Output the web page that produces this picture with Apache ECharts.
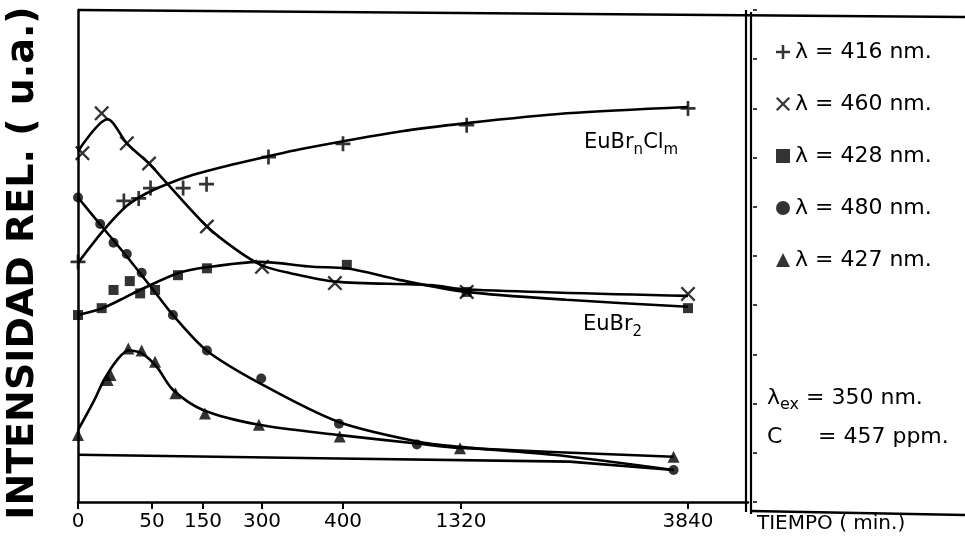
<!DOCTYPE html>
<html><head><meta charset="utf-8">
<script src="https://cdn.jsdelivr.net/npm/echarts@6/dist/echarts.min.js"></script>
<style>html,body{margin:0;padding:0;background:#fff}#c{width:965px;height:544px}</style>
</head><body><div id="c"></div><script>
// ---- DATA (time in minutes, relative intensity in u.a.) ----
const tickTimes = [0, 50, 150, 300, 400, 1320, 3840];
const tickLabels = ['0', '50', '150', '300', '400', '1320', '3840'];
const seriesNames = ['\u03bb = 416 nm.', '\u03bb = 460 nm.', '\u03bb = 428 nm.', '\u03bb = 480 nm.', '\u03bb = 427 nm.'];

// measured points
const pts416 = [[0,48.8],[31,61.2],[41,61.7],[49,63.8],[111,63.8],[159,64.6],[308,70.1],[400,72.8],[1383,76.6],[3840,80.0]];
const pts460 = [[3,70.9],[16,79.0],[33,72.9],[48,68.8],[160,56.0],[300,47.8],[390,44.5],[1383,42.7],[3840,42.3]];
const pts428 = [[0,38.0],[16,39.4],[24,43.1],[35,44.9],[42,42.4],[56,43.1],[101,46.1],[160,47.5],[430,48.2],[1383,42.7],[3840,39.4]];
const pts480 = [[0,61.9],[15,56.5],[24,52.7],[33,50.4],[43,46.6],[91,38.0],[160,30.8],[298,25.1],[395,15.9],[976,11.7],[3680,6.5]];
const pts427 = [[0,13.6],[20,24.8],[22,25.8],[34,31.2],[43,30.8],[56,28.5],[96,22.1],[155,18.0],[292,15.7],[396,13.3],[1312,10.9],[3680,9.2]];

// fitted curves (traced)
const fit416 = [[0,48.6],[17.5,55.3],[33,60.2],[46,62.7],[79,64.6],[131,66.5],[210,68.3],[306,70.2],[347,71.7],[845,75.3],[1383,77.0],[2493,79.0],[3840,80.3]];
const fit460 = [[0,71.3],[20,77.8],[33,72.9],[48,68.8],[79,64.8],[160,56.0],[236,51.2],[300,48.1],[335,46.5],[390,44.8],[1080,44.1],[1383,43.2],[3840,41.9]];
const fit428 = [[0,38.0],[16.5,39.4],[28.7,41.1],[44,43.4],[101,46.5],[159,47.7],[295,48.8],[363,47.8],[430,47.5],[845,45.1],[1383,42.7],[2493,41.1],[3840,39.7]];
const fit480 = [[0,61.9],[15.3,56.3],[33,49.9],[52.5,43.1],[91,38.0],[159,30.8],[295,24.1],[394,16.3],[976,12.3],[1312,11.2],[2344,9.6],[3680,6.5]];
const fit427 = [[0,14.6],[11,20.7],[17.5,24.8],[26.5,28.9],[34,30.8],[43,30.2],[59,27.5],[91,22.8],[150,18.7],[292,15.7],[396,13.6],[976,11.9],[1312,11.0],[3680,9.2]];
const baseLine = [[0,9.6],[372,8.9],[2524,8.2],[3680,6.5]];

// ---- LAYOUT / SCALE ----
// the hand-drawn time axis: positions of each tick along the axis (px from the origin)
const tickPos = [0, 74, 125, 184, 265, 383, 610];
function toPos(t) {
  for (let i = 0; i < tickTimes.length - 1; i++) {
    if (t <= tickTimes[i + 1]) {
      return tickPos[i] + (t - tickTimes[i]) / (tickTimes[i + 1] - tickTimes[i]) * (tickPos[i + 1] - tickPos[i]);
    }
  }
  return tickPos[tickPos.length - 1];
}
const FONT = 'DejaVu Sans';
const plusPath = 'path://M4.1,0H5.9V4.1H10V5.9H5.9V10H4.1V5.9H0V4.1H4.1Z';
const crossPath = 'path://M1.1,0L5,3.9L8.9,0L10,1.1L6.1,5L10,8.9L8.9,10L5,6.1L1.1,10L0,8.9L3.9,5L0,1.1Z';
const symbols = [plusPath, crossPath, 'rect', 'circle', 'triangle'];
const symSizes = [15, 15, 10, 10, 12];
const pts = [pts416, pts460, pts428, pts480, pts427];
const fits = [fit416, fit460, fit428, fit480, fit427];

const series = [];
fits.forEach(f => series.push({
  type: 'line', data: f.map(p => [toPos(p[0]), p[1]]), smooth: 0.3,
  symbol: 'none', lineStyle: { color: '#000', width: 2.6 }, silent: true, z: 2
}));
series.push({
  type: 'line', data: baseLine.map(p => [toPos(p[0]), p[1]]), symbol: 'none',
  lineStyle: { color: '#000', width: 2.6 }, silent: true, z: 2
});
pts.forEach((d, i) => series.push({
  type: 'scatter', name: seriesNames[i], data: d.map(p => [toPos(p[0]), p[1]]),
  symbol: symbols[i], symbolSize: symSizes[i], itemStyle: { color: '#000' }, z: 3, silent: true
}));

const chart = echarts.init(document.getElementById('c'), null, { renderer: 'canvas' });
chart.setOption({
  animation: false,
  backgroundColor: '#fff',
  grid: { left: 78, right: 217, top: 10, bottom: 42 },
  xAxis: {
    type: 'value', min: 0, max: 670,
    axisLine: { lineStyle: { color: '#000', width: 2.5 } },
    axisTick: { show: true, customValues: tickPos, length: 7, lineStyle: { color: '#000', width: 2 } },
    axisLabel: { customValues: tickPos, formatter: v => { const i = tickPos.indexOf(v); return i >= 0 ? tickLabels[i] : ''; },
      color: '#000', fontSize: 20, fontFamily: FONT, margin: 10 },
    splitLine: { show: false }
  },
  yAxis: [{
    type: 'value', min: 0, max: 100, position: 'left',
    axisLine: { show: true, lineStyle: { color: '#000', width: 2.5 } },
    axisTick: { show: false }, axisLabel: { show: false }, splitLine: { show: false }
  }, {
    type: 'value', min: 0, max: 100, interval: 10, position: 'right', offset: 5,
    axisLine: { show: false }, axisTick: { show: true, length: 4, lineStyle: { color: '#000', width: 1.5 } },
    axisLabel: { show: false }, splitLine: { show: false }
  }],
  legend: {
    orient: 'vertical', left: 771, top: 36, itemGap: 30, itemWidth: 14, itemHeight: 14,
    selectedMode: false,
    textStyle: { fontSize: 22, fontFamily: FONT, color: '#000' },
    data: seriesNames.map((n, i) => ({ name: n, icon: symbols[i] }))
  },
  series: series,
  graphic: [
    { type: 'line', shape: { x1: 78, y1: 10, x2: 965, y2: 17 }, style: { stroke: '#000', lineWidth: 2.5 } },
    { type: 'line', shape: { x1: 746, y1: 10, x2: 746, y2: 512 }, style: { stroke: '#000', lineWidth: 2.2 } },
    { type: 'line', shape: { x1: 751, y1: 12, x2: 751, y2: 514 }, style: { stroke: '#000', lineWidth: 2.2 } },
    { type: 'line', shape: { x1: 751, y1: 511, x2: 965, y2: 515 }, style: { stroke: '#000', lineWidth: 2.5 } },
    { type: 'text', x: 23, y: 263, rotation: Math.PI / 2,
      style: { text: 'INTENSIDAD REL. ( u.a.)', font: 'bold 38px "DejaVu Sans"', fill: '#000', textAlign: 'center', textVerticalAlign: 'middle' } },
    { type: 'text', x: 757, y: 524,
      style: { text: 'TIEMPO ( min.)', font: '20px "DejaVu Sans"', fill: '#000', textAlign: 'left', textVerticalAlign: 'middle' } },
    { type: 'text', x: 584, y: 143,
      style: { text: '{a|EuBr}{s|n}{a|Cl}{s|m}', textVerticalAlign: 'middle',
        rich: { a: { fontSize: 21, fontFamily: FONT, fill: '#000', lineHeight: 30 }, s: { fontSize: 15, fontFamily: FONT, fill: '#000', verticalAlign: 'bottom', lineHeight: 18 } } } },
    { type: 'text', x: 583, y: 325,
      style: { text: '{a|EuBr}{s|2}', textVerticalAlign: 'middle',
        rich: { a: { fontSize: 21, fontFamily: FONT, fill: '#000', lineHeight: 30 }, s: { fontSize: 15, fontFamily: FONT, fill: '#000', verticalAlign: 'bottom', lineHeight: 18 } } } },
    { type: 'text', x: 767, y: 398,
      style: { text: '{a|\u03bb}{s|ex}{a| = 350 nm.}', textVerticalAlign: 'middle',
        rich: { a: { fontSize: 22, fontFamily: FONT, fill: '#000', lineHeight: 30 }, s: { fontSize: 16, fontFamily: FONT, fill: '#000', verticalAlign: 'bottom', lineHeight: 18 } } } },
    { type: 'text', x: 767, y: 437,
      style: { text: 'C', font: '22px "DejaVu Sans"', fill: '#000', textVerticalAlign: 'middle' } },
    { type: 'text', x: 818, y: 437,
      style: { text: '= 457 ppm.', font: '22px "DejaVu Sans"', fill: '#000', textVerticalAlign: 'middle' } }
  ]
});
</script></body></html>
